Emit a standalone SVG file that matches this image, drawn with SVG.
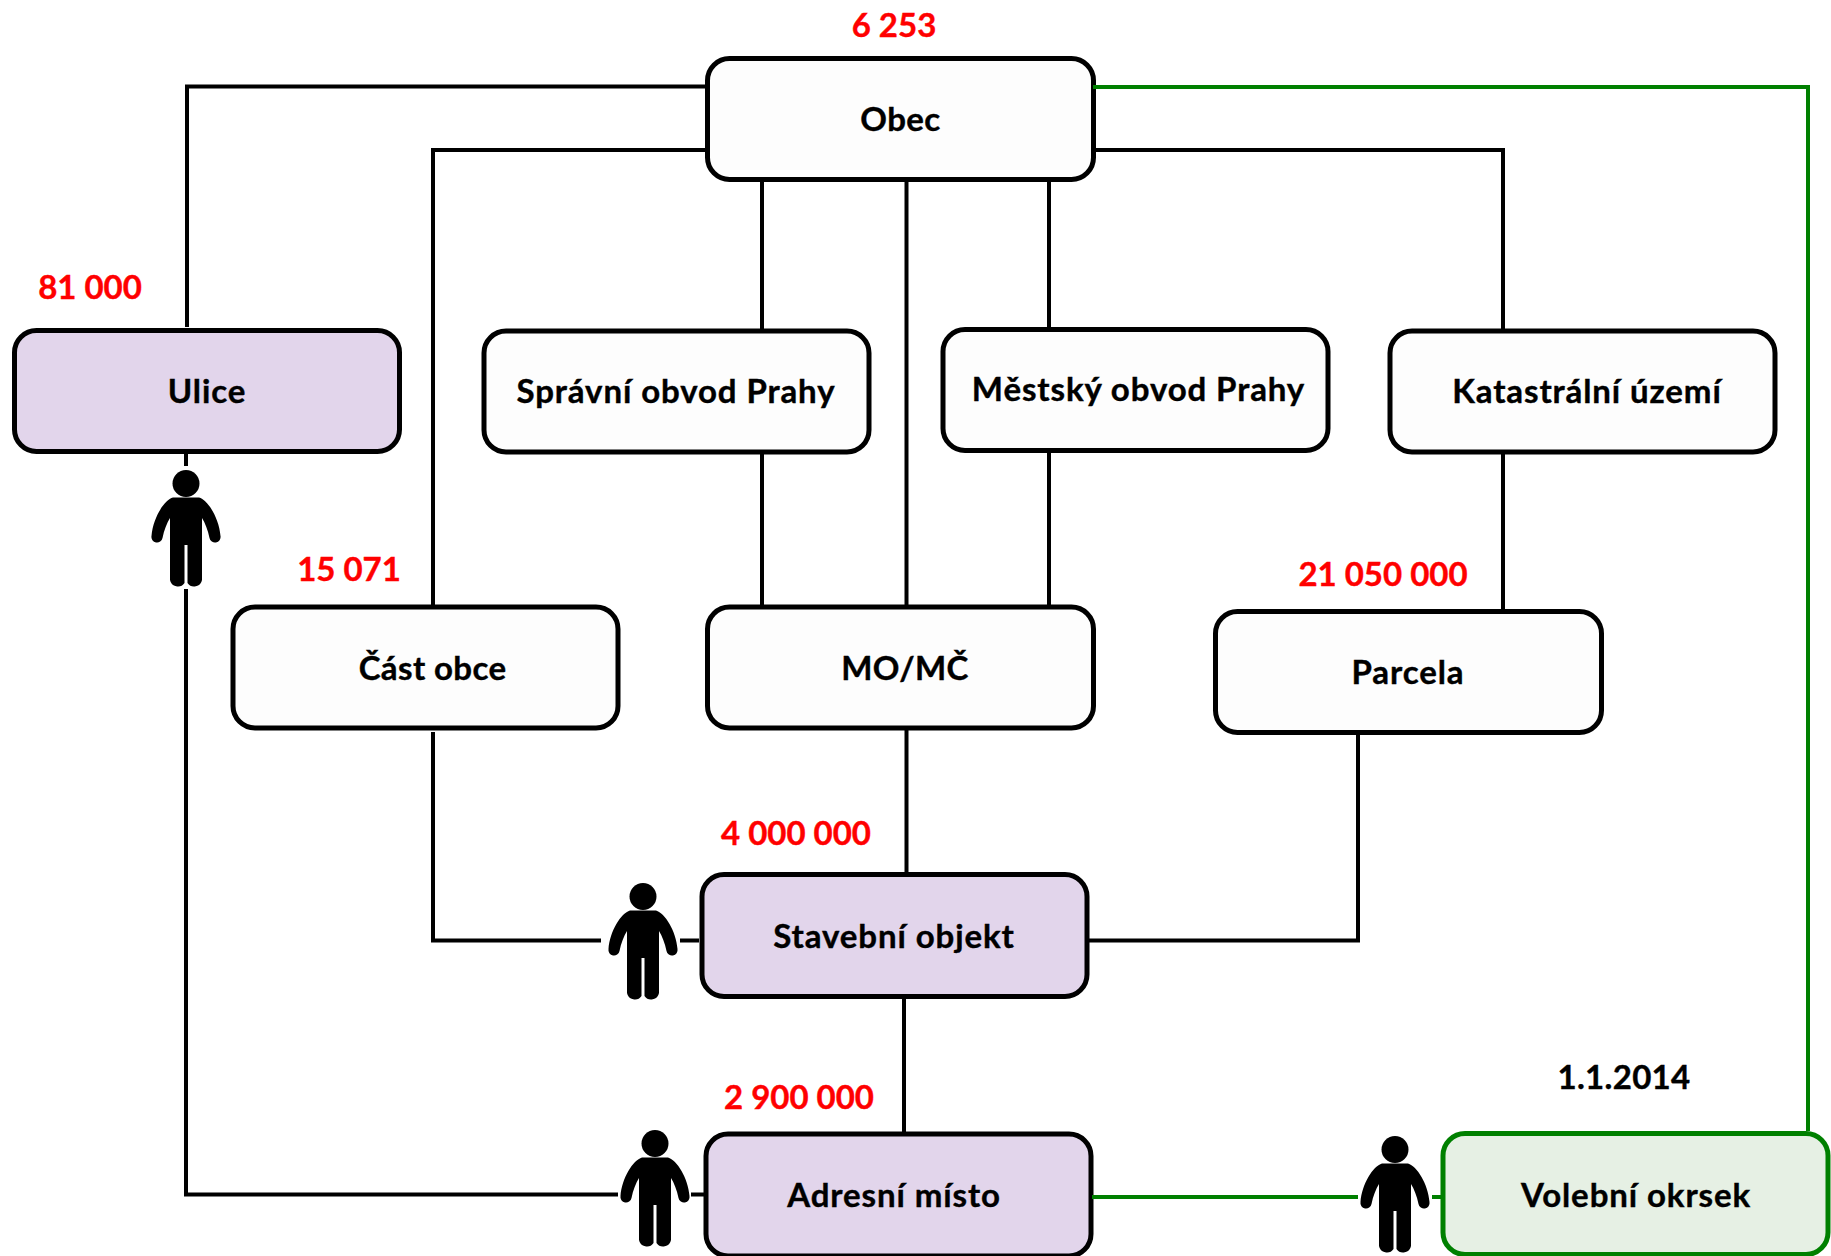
<svg xmlns="http://www.w3.org/2000/svg" xmlns:xlink="http://www.w3.org/1999/xlink" width="1831" height="1256" viewBox="0 0 1831 1256">
<style>
.n{fill:#fdfdfd;stroke:#000;stroke-width:5}
.p{fill:#e2d5eb;stroke:#000;stroke-width:5}
.g{fill:#e6f0e4;stroke:#008000;stroke-width:5}
text{font-family:Lato,"Liberation Sans",sans-serif;font-weight:700;font-size:33px;letter-spacing:.9px;text-anchor:middle;fill:#000;stroke:#000;stroke-width:.4}
text.r{fill:#f00;stroke:#f00;letter-spacing:0}
text.d{letter-spacing:.3px}
text.t{letter-spacing:.4px}
.k{fill:none;stroke:#000;stroke-width:4}
.e{fill:none;stroke:#008000;stroke-width:4}
</style>
<defs>
<g id="person"><circle cx="0" cy="13.5" r="13.5"/><path d="M-13 27.5H13C22 30 33 48 34.5 66A5.5 5.5 0 0 1 23.5 68C22 60 19 53 16 48V110A8 8 0 0 1 1.500 113V75H-1.500V113A8 8 0 0 1 -16 110V48C-19 53 -22 60 -23.5 68A5.5 5.5 0 0 1 -34.5 66C-33 48 -22 30 -13 27.5Z"/></g>
</defs>
<rect width="1831" height="1256" fill="#fff"/>
<g id="obec"><rect class="n" x="707.500" y="58.500" width="386" height="121" rx="22"/><text class="t" x="900.500" y="131">Obec</text><text class="r" x="894" y="37">6 253</text></g>
<g id="ulice"><rect class="p" x="14.500" y="330.500" width="385" height="121" rx="22"/><text x="207" y="403">Ulice</text><text class="r" x="90" y="299">81 000</text><use xlink:href="#person" x="186" y="470"/></g>
<g id="spravni"><rect class="n" x="484" y="331" width="385" height="121" rx="22"/><text x="676" y="403">Správní obvod Prahy</text></g>
<g id="mestsky"><rect class="n" x="943" y="329.500" width="385" height="121" rx="22"/><text x="1138.500" y="400.500">Městský obvod Prahy</text></g>
<g id="katastralni"><rect class="n" x="1390" y="331" width="385" height="121" rx="22"/><text x="1587" y="403">Katastrální území</text></g>
<g id="cast"><rect class="n" x="233" y="607" width="385" height="121" rx="22"/><text class="t" x="432.600" y="680">Část obce</text><text class="r" x="349" y="581">15 071</text></g>
<g id="momc"><rect class="n" x="707.500" y="607" width="386" height="121" rx="22"/><text class="t" x="905" y="680">MO/MČ</text></g>
<g id="parcela"><rect class="n" x="1215.500" y="611.500" width="386" height="121" rx="22"/><text x="1408" y="684">Parcela</text><text class="r" x="1383" y="586">21 050 000</text></g>
<g id="stavebni"><rect class="p" x="702" y="874.500" width="385" height="122" rx="22"/><text x="894" y="948">Stavební objekt</text><text class="r" x="796" y="845">4 000 000</text><use xlink:href="#person" x="643" y="883"/></g>
<g id="adresni"><rect class="p" x="706" y="1134" width="385" height="122" rx="22"/><text x="894" y="1207">Adresní místo</text><text class="r" x="799" y="1109">2 900 000</text><use xlink:href="#person" x="655" y="1130"/></g>
<g id="volebni"><rect class="g" x="1443" y="1133.500" width="385" height="121" rx="22"/><text x="1636" y="1207">Volební okrsek</text><text class="d" x="1624" y="1089">1.1.2014</text><use xlink:href="#person" x="1395" y="1136"/></g>
<g id="connectors">
<path class="k" d="M705 86.500H187V327"/>
<path class="k" d="M705 150H433V606"/>
<path class="k" d="M762 182V329M906.500 182V606M1049 182V329"/>
<path class="k" d="M762 452V606M1049 452V606"/>
<path class="k" d="M1096 150H1503V329M1503 452V609"/>
<path class="k" d="M186 453V466M186 589V1194.500H618M691 1194.500H704"/>
<path class="k" d="M433 732V940.500H601M680 940.500H699"/>
<path class="k" d="M1089 940.500H1358V733"/>
<path class="k" d="M906.500 729V872M904 998V1133"/>
<path class="e" d="M1093 87H1808V1131"/>
<path class="e" d="M1092 1197H1358M1432 1197H1442"/>
</g>
</svg>
